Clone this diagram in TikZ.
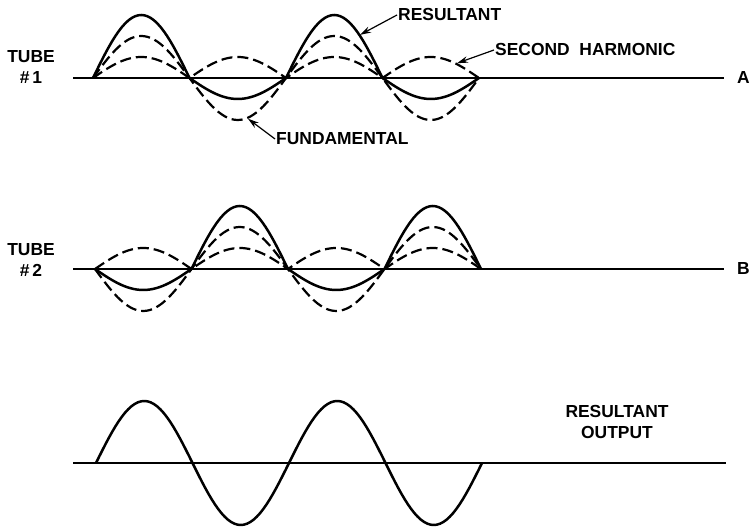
\documentclass[tikz,border=0pt]{standalone}
\usepackage{fontspec}
\setmainfont{Liberation Sans}
\usetikzlibrary{positioning,arrows.meta,calc}
\tikzset{
  axisln/.style = {line width=1.4bp},
  result/.style = {line width=2.5bp, line join=round},
  compo/.style  = {line width=2.2bp, dash pattern=on 11bp off 5bp},
  leader/.style = {-{Stealth[length=11bp,width=6.5bp]}, line width=1.2bp},
  lbl/.style    = {font=\bfseries\fontsize{17.5}{21}\selectfont, inner sep=1bp},
  side/.style   = {lbl, align=center},
}
\def\hp{96.5}% half period of the fundamental
\newcommand{\tubewaves}[3]{%
  \begin{scope}[shift={(#1,#2)}]
    %% ---------------- fundamental and second harmonic ------------------
    \draw[compo] plot[domain=0:720, samples=121]
      ({\x/180*\hp}, {#3*42*sin(\x)});
    \draw[compo] plot[domain=0:720, samples=121]
      ({\x/180*\hp}, {21*abs(sin(\x))});
    %% ---------------- resultant ----------------------------------------
    \draw[result] plot[domain=0:720, samples=121]
      ({\x/180*\hp}, {#3*42*sin(\x)+21*abs(sin(\x))});
  \end{scope}}

\begin{document}
\begin{tikzpicture}[x=1bp, y=1bp]
  \useasboundingbox (0,0) rectangle (753,529);

  %% ---------------- tube #1 ---------------------------------------------
  \coordinate (aBeg) at (73,451);
  \coordinate (aEnd) at (724,451);
  \draw[axisln] (aBeg) -- (aEnd);
  \tubewaves{93}{451}{1}
  \node[side] (tubeA) at (31,462) {TUBE\\\#\,1};
  \node[lbl, right=12bp of aEnd] (labA) {A};

  \coordinate (resTip)  at ({93+3*\hp-42/180*\hp}, {452+63*sin(138)});
  \coordinate (harmTip) at ({93+3*\hp+139/180*\hp}, {452+21*sin(139)});
  \coordinate (fundTip) at ({93+\hp+109/180*\hp}, {450-42*sin(109)});
  \node[lbl, anchor=west] (lblRes)  at (397,514) {RESULTANT};
  \node[lbl, anchor=west] (lblHarm) at (494,479) {SECOND\ \ HARMONIC};
  \node[lbl, anchor=west] (lblFund) at (275,390) {FUNDAMENTAL};
  \draw[leader] (lblRes.west)  -- (resTip);
  \draw[leader] (lblHarm.west) -- (harmTip);
  \draw[leader] (lblFund.west) -- (fundTip);

  %% ---------------- tube #2 ---------------------------------------------
  \coordinate (bBeg) at (73,260);
  \coordinate (bEnd) at (724,260);
  \draw[axisln] (bBeg) -- (bEnd);
  \tubewaves{95}{260}{-1}
  \node[side] (tubeB) at (31,269) {TUBE\\\#\,2};
  \node[lbl, right=12bp of bEnd] (labB) {B};

  %% ---------------- resultant output ------------------------------------
  \coordinate (cBeg) at (73,66);
  \coordinate (cEnd) at (726,66);
  \draw[axisln] (cBeg) -- (cEnd);
  \draw[result] plot[domain=0:720, samples=121]
    ({96+\x/180*\hp}, {66+62*sin(\x)});
  \node[side] (lblOut) at (617,107) {RESULTANT\\OUTPUT};
\end{tikzpicture}
\end{document}
